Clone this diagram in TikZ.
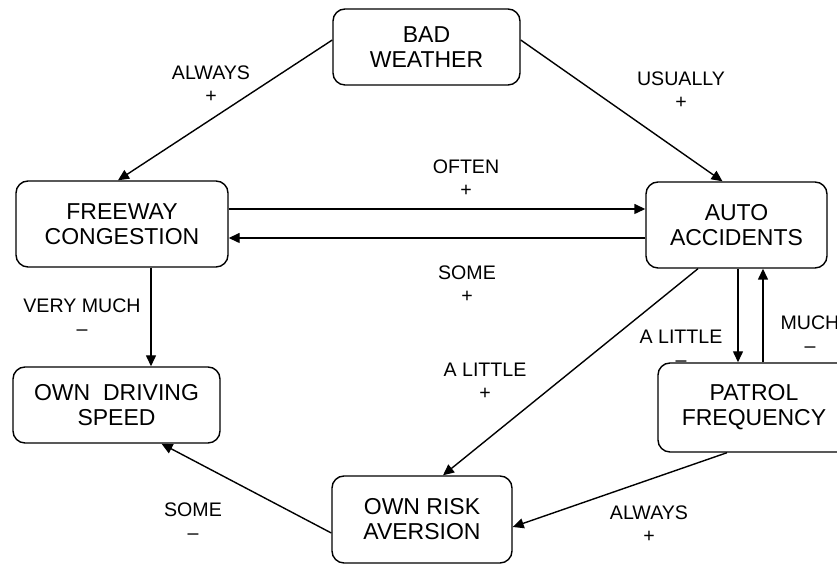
\documentclass[tikz,border=0pt]{standalone}
\usepackage{fontspec}
\setmainfont{Liberation Sans}
\usepackage{tikz}
\usetikzlibrary{calc,arrows.meta,positioning}

\begin{document}
\begin{tikzpicture}[x=0.5pt,y=-0.5pt,>={Triangle[length=5.5pt,width=5pt]},
      line width=0.7pt,
      box/.style={rounded corners=6pt,draw=black,line width=0.7pt,fill=white,
                  align=center,inner sep=0pt,font=\fontsize{11.5}{12.5}\selectfont},
      lbl/.style={align=center,inner sep=0pt,font=\fontsize{9.8}{11.5}\selectfont}]
    \useasboundingbox (0,0) rectangle (837,565);
    \node[box,minimum width=93.5pt,minimum height=38pt] (weather) at (426.5,47)
      {BAD\\WEATHER};
    \node[box,minimum width=106pt,minimum height=43pt] (freeway) at (122,224)
      {FREEWAY\\CONGESTION};
    \node[box,minimum width=90.5pt,minimum height=43pt] (accidents) at (736.5,225)
      {AUTO\\ACCIDENTS};
    \node[box,minimum width=103.5pt,minimum height=38pt] (driving) at (116.5,405)
      {OWN\ \ DRIVING\\SPEED};
    \node[box,minimum width=90pt,minimum height=43.5pt] (risk) at (422,519.5)
      {OWN RISK\\AVERSION};
    \node[box,minimum width=96pt,minimum height=44.5pt] (patrol) at (754,407.5)
      {PATROL\\FREQUENCY};
    % link labels
    \node[lbl] (lblalways) at (211,84) {ALWAYS\\+};
    \node[lbl] (lblusually) at (681,90) {USUALLY\\+};
    \node[lbl] (lbloften) at (466,178) {OFTEN\\+};
    \node[lbl] (lblsome) at (467,284) {SOME\\+};
    \node[lbl] (lblverymuch) at (82,317) {VERY MUCH\\--};
    \node[lbl] (lblalittle) at (681,348) {A LITTLE\\--};
    \node[lbl] (lblmuch) at (810,334) {MUCH\\--};
    \node[lbl] (lblalittlep) at (485,381) {A LITTLE\\+};
    \node[lbl] (lblalwaysp) at (649,524) {ALWAYS\\+};
    \node[lbl] (lblsomem) at (193,521) {SOME\\--};
    % connectors
    \coordinate (fa) at ($(freeway.east)+(0,-15)$);
    \coordinate (af) at ($(freeway.east)+(0,14)$);
    \coordinate (fd) at ($(freeway.south)+(29,0)$);
    \coordinate (ap) at ($(accidents.south)+(1.5,0)$);
    \coordinate (pa) at ($(patrol.north)+(9,0)$);
    \draw[->] ($(weather.west)+(0,-7)$) -- ($(freeway.north)+(-4,0)$);
    \draw[->] ($(weather.east)+(0,-7)$) -- ($(accidents.north)+(-14,0)$);
    \draw[->] (fa) -- (fa -| accidents.west);
    \draw[->] (af -| accidents.west) -- (af);
    \draw[->] (fd) -- (fd |- driving.north);
    \draw[->] ($(accidents.south)+(-38.5,0)$) -- ($(risk.north)+(21,0)$);
    \draw[->] (ap) -- (ap |- patrol.north);
    \draw[->] (pa) -- (pa |- accidents.south);
    \draw[->] ($(patrol.south)+(-27,0)$) -- ($(risk.east)+(0,7.5)$);
    \draw[->] ($(risk.west)+(0,13.5)$) -- ($(driving.south)+(45,0)$);
  \end{tikzpicture}
\end{document}
